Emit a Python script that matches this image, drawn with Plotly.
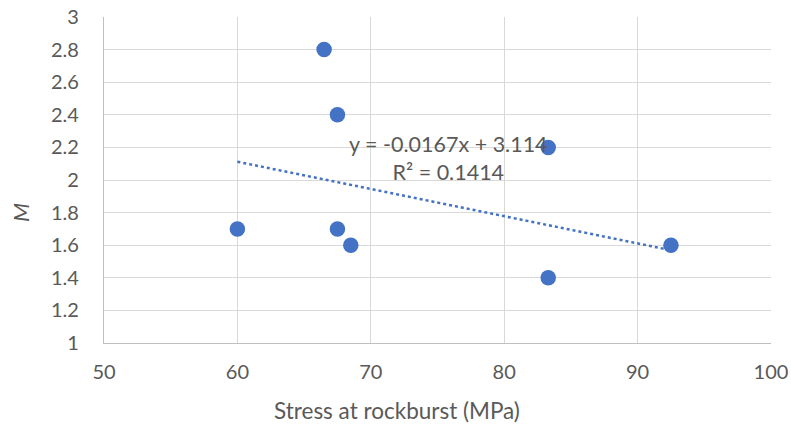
import plotly.graph_objects as go

# Stress at rockburst (MPa) and M values
stress = [66.5, 67.5, 60.0, 67.5, 68.5, 83.3, 83.3, 92.5]
m_value = [2.8, 2.4, 1.7, 1.7, 1.6, 2.2, 1.4, 1.6]

# Linear trendline coefficients
slope = -0.0167
intercept = 3.114
r_squared = 0.1414

x_ticks = [50, 60, 70, 80, 90, 100]
y_ticks = [1, 1.2, 1.4, 1.6, 1.8, 2, 2.2, 2.4, 2.6, 2.8, 3]

blue = "#4472C4"
grey_text = "#595959"
grid = "#D9D9D9"
font_family = "Lato, 'Open Sans', sans-serif"

W, H = 791, 427
ML, MR, MT, MB = 104, 20, 17, 84

x_lo, x_hi = min(stress), max(stress)
trend_x = [x_lo, x_hi]
trend_y = [slope * v + intercept for v in trend_x]

fig = go.Figure()
fig.add_trace(go.Scatter(
    x=trend_x, y=trend_y, mode="lines",
    line=dict(color=blue, width=2.5, dash="dot"),
    hoverinfo="skip", showlegend=False,
))
fig.add_trace(go.Scatter(
    x=stress, y=m_value, mode="markers",
    marker=dict(color=blue, size=15.5, line=dict(width=0)),
    showlegend=False,
))

eq_text = f"y = {slope}x + {intercept}<br>R² = {r_squared}"
fig.add_annotation(
    x=75.8, y=2.135, xref="x", yref="y",
    text=eq_text, showarrow=False, align="center",
    font=dict(family=font_family, size=21.5, color=grey_text),
)

# Axis titles are centred on the whole chart area
pw, ph = W - ML - MR, H - MT - MB
fig.add_annotation(
    x=(397 - ML) / pw, y=-(410 - (H - MB)) / ph, xref="paper", yref="paper",
    text="Stress at rockburst (MPa)", showarrow=False,
    xanchor="center", yanchor="middle",
    font=dict(family=font_family, size=22.5, color=grey_text),
)
fig.add_annotation(
    x=-(ML - 20) / pw, y=1 - (213 - MT) / ph, xref="paper", yref="paper",
    text="<i>M</i>", showarrow=False, textangle=-90,
    xanchor="center", yanchor="middle",
    font=dict(family=font_family, size=22, color=grey_text),
)

fig.update_layout(
    width=W, height=H,
    margin=dict(l=ML, r=MR, t=MT, b=MB),
    paper_bgcolor="white", plot_bgcolor="white",
    font=dict(family=font_family, color=grey_text),
)
fig.update_xaxes(
    range=[50, 100], tickvals=x_ticks, ticktext=[str(v) for v in x_ticks],
    showgrid=True, gridcolor=grid, gridwidth=1.3,
    showline=True, linecolor="#BFBFBF", linewidth=1.3, mirror=False,
    zeroline=False, ticks="", ticklabelstandoff=11, automargin=False,
    tickfont=dict(size=20, color=grey_text),
)
fig.update_yaxes(
    range=[1, 3], tickvals=y_ticks, ticktext=[f"{v:g}" for v in y_ticks],
    showgrid=True, gridcolor=grid, gridwidth=1.3,
    showline=True, linecolor="#BFBFBF", linewidth=1.3,
    zeroline=False, ticks="", ticklabelstandoff=20, automargin=False,
    tickfont=dict(size=20, color=grey_text),
)

fig.write_html("out.html")
